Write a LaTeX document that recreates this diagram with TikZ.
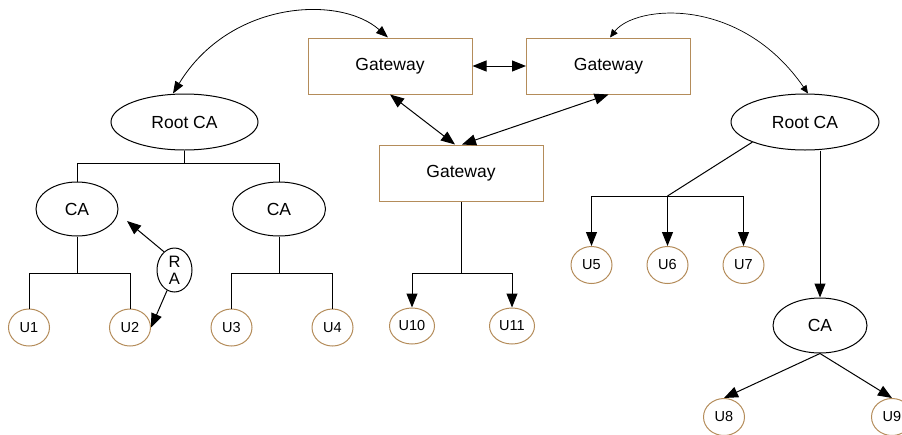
\documentclass[tikz,border=0pt]{standalone}
\usepackage{fontspec}
\setmainfont{Liberation Sans}
\usetikzlibrary{arrows.meta,shapes.geometric,calc}
\definecolor{tan}{RGB}{180,140,90}
\begin{document}
\begin{tikzpicture}[x=1pt,y=-1pt,
  line width=1pt,
  gw/.style={draw=tan,rectangle,minimum width=164pt,minimum height=56pt,inner sep=0pt,font=\fontsize{17.5}{20}\selectfont},
  caell/.style={draw,ellipse,inner sep=0pt,font=\fontsize{17.5}{20}\selectfont},
  user/.style={draw=tan,ellipse,minimum width=41pt,minimum height=37pt,inner sep=0pt,font=\fontsize{14.5}{16}\selectfont},
  arr/.style={-{Triangle[length=14pt,width=11pt]}},
  darr/.style={{Triangle[length=14pt,width=11pt]}-{Triangle[length=14pt,width=11pt]}},
  marr/.style={{Triangle[length=12pt,width=9pt]}-{Triangle[length=12pt,width=9pt]}},
  sarr/.style={{Triangle[length=8pt,width=7pt]}-{Triangle[length=8pt,width=7pt]}}]
\clip (0,0) rectangle (902,434);
\useasboundingbox (0,0) rectangle (902,434);
% gateways
\node[gw] (g1) at (390,66) {Gateway};
\node[gw] (g2) at (608.5,66) {Gateway};
\node[gw] (g3) at (461,173) {Gateway};
% left tree
\node[caell,minimum width=147pt,minimum height=56pt] (rootL) at (184.5,122) {Root CA};
\node[caell,minimum width=82pt,minimum height=54pt] (caL) at (77,209) {CA};
\node[caell,minimum width=93pt,minimum height=54pt] (caM) at (279,209) {CA};
\node[user] (u1) at (29,327.5) {U1};
\node[user] (u2) at (130,327.5) {U2};
\node[user] (u3) at (231.5,327.5) {U3};
\node[user] (u4) at (332.5,327.5) {U4};
\node[draw,ellipse,minimum width=35pt,minimum height=44pt,inner sep=0pt,align=center,font=\fontsize{16.5}{17}\selectfont] (ra) at (174.5,270) {R\\A};
\coordinate (jL) at (184.5,163);
\coordinate (jA) at (77,273);
\coordinate (jB) at (279,273);
\coordinate (raT) at (127,221);
\draw (rootL.south) -- (jL);
\draw (jL) -| (caL.north);
\draw (jL) -| (caM.north);
\draw (caL.south) -- (jA);
\draw (jA) -| (u1.north);
\draw (jA) -| (u2.north);
\draw (caM.south) -- (jB);
\draw (jB) -| (u3.north);
\draw (jB) -| (u4.north);
\draw[arr] (ra.120) -- (raT);
\draw[arr] (ra.250) -- (u2.east);
% middle
\node[user,minimum width=45pt,minimum height=36pt] (u10) at (412,326) {U10};
\node[user,minimum width=45pt,minimum height=36pt] (u11) at (512,326) {U11};
\coordinate (jG) at (461,273);
\draw (g3.south) -- (jG);
\draw[arr] (jG) -| (u10.north);
\draw[arr] (jG) -| (u11.north);
\draw[darr] (g1.east) -- (g2.west);
\draw[darr] (g1.south) -- ($(g3.north)+(-6,0)$);
\draw[darr] (g2.south) -- ($(g3.north)+(1,0)$);
% right tree
\node[caell,minimum width=148pt,minimum height=56pt] (rootR) at (805,122) {Root CA};
\node[caell,minimum width=94pt,minimum height=55pt] (caR) at (820,325.5) {CA};
\node[user] (u5) at (591.5,265) {U5};
\node[user] (u6) at (667.5,265) {U6};
\node[user] (u7) at (743.5,265) {U7};
\node[user] (u8) at (724,417) {U8};
\node[user] (u9) at (892,417) {U9};
\coordinate (jR) at (667.5,196);
\draw (rootR.south west) -- (jR);
\draw[arr] (jR) -| (u5.north);
\draw[arr] (jR) -- (u6.north);
\draw[arr] (jR) -| (u7.north);
\draw[arr] (caR.north |- rootR.south) -- (caR.north);
\draw[arr] (caR.south) -- (u8.north);
\draw[arr] (caR.south) -- (u9.north);
% curved arrows
\draw[marr,line width=0.8pt] (g1.north -| 388,0) .. controls (340,-5) and (230,0) .. (rootL.north -| 173,0);
\draw[sarr,line width=0.7pt] (g2.north -| 610,0) .. controls (635,5) and (740,-5) .. (rootR.north -| 808,0);
\end{tikzpicture}
\end{document}
